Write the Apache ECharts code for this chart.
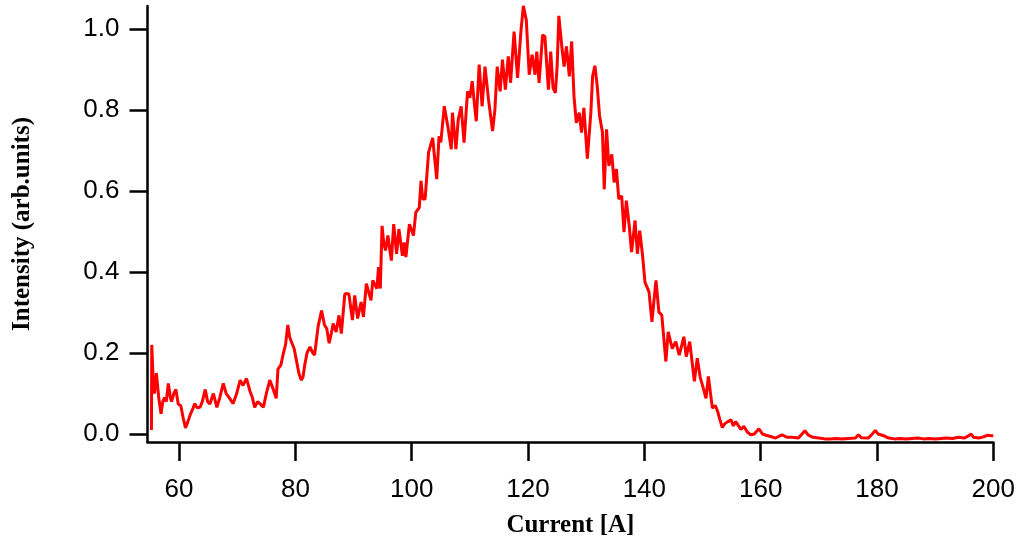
<!DOCTYPE html>
<html>
<head>
<meta charset="utf-8">
<script src="https://cdn.jsdelivr.net/npm/echarts@6/dist/echarts.min.js"></script>
<style>
html,body{margin:0;padding:0;background:#fff;}
#chart{width:1018px;height:543px;}
</style>
</head>
<body>
<div id="chart"></div>
<script>
var current = [
55.25,55.3,55.5,55.75,56.1,56.5,56.9,57.2,57.5,57.8,58.15,58.5,58.7,59.1,59.45,59.85,60.3,60.7,61.1,61.5,61.9,62.3,62.7,63.1,63.6,64.0,64.5,64.9,65.3,65.9,66.5,67.0,67.6,68.1,68.7,69.3,69.9,70.5,71.0,71.6,72.2,72.6,73.0,73.5,73.9,74.5,75.0,75.6,76.2,76.7,77.0,77.5,77.9,78.3,78.7,79.0,79.3,79.8,80.2,80.6,81.0,81.3,81.6,82.0,82.5,83.0,83.3,83.9,84.5,85.0,85.4,85.8,86.2,86.5,87.0,87.5,87.9,88.5,89.2,89.8,90.2,90.7,91.3,91.7,92.2,92.6,93.0,93.3,94.0,94.3,94.6,94.9,95.2,95.5,95.9,96.5,96.9,97.4,97.8,98.4,98.7,99.0,99.6,100.3,100.7,101.3,101.6,101.9,102.3,102.9,103.6,104.3,104.7,105.0,105.6,106.2,106.8,107.0,107.6,108.0,108.5,109.0,109.6,110.0,110.4,110.7,111.1,111.6,112.1,112.6,113.2,113.9,114.3,114.7,115.2,115.6,116.1,116.6,117.0,117.6,118.2,118.8,119.2,119.7,120.2,120.7,121.2,121.5,121.9,122.5,122.9,123.5,123.9,124.3,124.7,125.0,125.3,125.8,126.2,126.6,127.1,127.5,127.9,128.3,128.8,129.2,129.6,130.2,130.8,131.1,131.5,131.9,132.3,132.8,133.1,133.5,133.9,134.4,134.8,135.2,135.6,136.1,136.5,136.9,137.4,137.8,138.4,138.8,139.2,139.7,140.1,140.8,141.3,142.0,142.5,143.0,143.7,144.1,144.8,145.4,146.0,146.8,147.2,147.8,148.1,148.6,149.1,149.6,150.0,150.6,151.0,151.7,152.2,152.6,153.0,153.4,153.8,154.3,154.9,155.3,155.7,156.2,156.6,157.1,157.7,158.3,158.9,159.7,160.3,160.9,161.7,162.6,163.2,163.7,164.5,165.4,166.5,167.6,168.2,169.0,170,171,172,173,174,175,176.3,176.8,177.3,178.5,179.2,179.7,180.2,181.3,182,183,184,185,186,187,188,189,190,191,192,193,194,195,195.8,196.2,196.6,197.5,198.3,199.0,199.3,199.7,200
];
var intensity = [
0.01,0.22,0.15,0.10,0.15,0.09,0.05,0.08,0.09,0.08,0.125,0.09,0.08,0.10,0.11,0.074,0.07,0.04,0.015,0.03,0.047,0.06,0.075,0.065,0.066,0.08,0.11,0.08,0.074,0.10,0.066,0.09,0.125,0.10,0.088,0.075,0.10,0.133,0.12,0.137,0.105,0.09,0.066,0.08,0.075,0.066,0.10,0.133,0.11,0.088,0.16,0.17,0.197,0.22,0.269,0.24,0.228,0.21,0.18,0.15,0.133,0.14,0.17,0.20,0.215,0.20,0.195,0.265,0.305,0.269,0.26,0.224,0.25,0.273,0.252,0.293,0.248,0.346,0.346,0.281,0.342,0.285,0.326,0.289,0.371,0.35,0.33,0.379,0.359,0.412,0.359,0.514,0.47,0.453,0.49,0.428,0.518,0.445,0.506,0.44,0.473,0.437,0.518,0.49,0.547,0.559,0.625,0.58,0.58,0.695,0.731,0.629,0.735,0.72,0.809,0.76,0.703,0.793,0.703,0.776,0.809,0.719,0.846,0.83,0.871,0.826,0.772,0.912,0.809,0.907,0.826,0.748,0.80,0.907,0.846,0.924,0.85,0.932,0.867,0.993,0.879,0.998,1.057,1.022,0.887,0.936,0.887,0.944,0.867,0.985,0.981,0.85,0.944,0.854,0.842,0.907,1.032,0.957,0.907,0.957,0.883,0.969,0.834,0.768,0.793,0.744,0.805,0.68,0.793,0.883,0.909,0.858,0.785,0.744,0.604,0.752,0.662,0.69,0.621,0.654,0.58,0.588,0.498,0.576,0.514,0.449,0.527,0.445,0.502,0.44,0.375,0.351,0.277,0.379,0.301,0.293,0.179,0.252,0.211,0.228,0.195,0.24,0.191,0.228,0.228,0.13,0.187,0.14,0.12,0.088,0.142,0.064,0.07,0.056,0.035,0.016,0.025,0.03,0.035,0.02,0.031,0.02,0.011,0.019,0.005,-0.002,0.0,0.013,0.0,-0.003,-0.006,-0.01,-0.005,-0.002,-0.008,-0.008,-0.01,0.008,-0.003,-0.008,-0.01,-0.012,-0.012,-0.011,-0.012,-0.011,-0.01,-0.002,-0.009,-0.01,0.0,0.009,0.0,-0.005,-0.01,-0.012,-0.011,-0.012,-0.011,-0.01,-0.012,-0.011,-0.012,-0.011,-0.01,-0.011,-0.008,-0.01,-0.004,0.0,-0.008,-0.01,-0.007,-0.003,0.0,-0.004,-0.005
];
var xTicks = [60, 80, 100, 120, 140, 160, 180, 200];
var yTicks = [0.0, 0.2, 0.4, 0.6, 0.8, 1.0];

var seriesData = current.map(function (c, i) { return [c, intensity[i]]; });

var chart = echarts.init(document.getElementById('chart'), null, {renderer: 'canvas'});
chart.setOption({
  animation: false,
  backgroundColor: '#ffffff',
  grid: {left: 147.5, right: 22, top: 6, bottom: 99, containLabel: false},
  xAxis: {
    type: 'value',
    min: 54.57,
    max: 200,
    name: 'Current [A]',
    nameLocation: 'middle',
    nameGap: 71,
    nameTextStyle: {fontFamily: 'Liberation Serif', fontWeight: 'bold', fontSize: 25, color: '#000'},
    axisLine: {show: true, onZero: false, lineStyle: {color: '#000', width: 2.5}},
    axisTick: {show: true, inside: false, length: 19, customValues: xTicks, lineStyle: {color: '#000', width: 2.5}},
    axisLabel: {show: true, customValues: xTicks, margin: 35, fontFamily: 'Liberation Sans', fontSize: 26, color: '#000'},
    splitLine: {show: false},
    minorTick: {show: false}
  },
  yAxis: {
    type: 'value',
    min: -0.0197,
    max: 1.0565,
    name: 'Intensity (arb.units)',
    nameLocation: 'middle',
    nameRotate: 90,
    nameGap: 112,
    nameTextStyle: {fontFamily: 'Liberation Serif', fontWeight: 'bold', fontSize: 25, color: '#000'},
    axisLine: {show: true, onZero: false, lineStyle: {color: '#000', width: 2.5}},
    axisTick: {show: true, inside: false, length: 18, customValues: yTicks, lineStyle: {color: '#000', width: 2.5}},
    axisLabel: {show: true, customValues: yTicks, margin: 28, fontFamily: 'Liberation Sans', fontSize: 26, color: '#000',
      formatter: function (v) { return Number(v).toFixed(1); }},
    splitLine: {show: false}
  },
  series: [{
    type: 'line',
    data: seriesData,
    showSymbol: false,
    symbol: 'none',
    smooth: false,
    lineStyle: {color: '#ff0000', width: 3},
    itemStyle: {color: '#ff0000'},
    clip: false
  }]
});
</script>
</body>
</html>
